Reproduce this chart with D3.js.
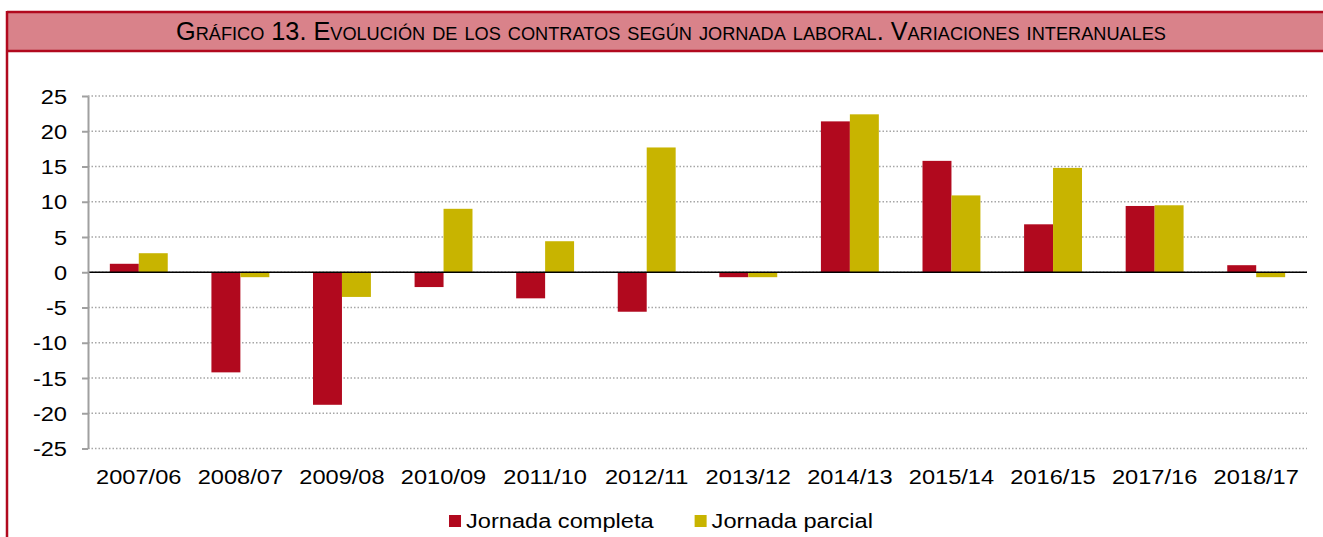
<!DOCTYPE html>
<html>
<head>
  <meta charset="utf-8">
  <title>Gráfico 13</title>
  <script src="https://d3js.org/d3.v7.min.js"></script>
  <style>
    body { margin: 0; background: #fff; }
    text { font-family: "Liberation Sans", Arial, sans-serif; fill: #000; }
    .grid line { stroke: #a6a6a6; stroke-width: 1.5; stroke-dasharray: 1.5,2; }
    .y.axis path, .y.axis line { stroke: #a0a0a0; stroke-width: 2; }
  </style>
</head>
<body>
  <svg id="chart"></svg>
  <script>
    var categories = ["2007/06", "2008/07", "2009/08", "2010/09", "2011/10", "2012/11",
                      "2013/12", "2014/13", "2015/14", "2016/15", "2017/16", "2018/17"];
    var completa = [1.2, -14.2, -18.8, -2.1, -3.7, -5.6, -0.7, 21.4, 15.8, 6.8, 9.4, 1.0];
    var parcial  = [2.7, -0.7, -3.5, 9.0, 4.4, 17.7, -0.7, 22.4, 10.9, 14.8, 9.5, -0.7];
    var seriesNames = ["Jornada completa", "Jornada parcial"];
    var yTicks = [-25, -20, -15, -10, -5, 0, 5, 10, 15, 20, 25];
    var title = "Gráfico 13. Evolución de los contratos según jornada laboral. Variaciones interanuales";

    var colors = ["#b1091e", "#c8b400"];
    var stretch = 1.18; // the original text is a little wider than Arial

    var W = 1323, H = 537;
    var plotLeft = 88, plotRight = 1307, plotTop = 96, plotBottom = 448.5;

    var svg = d3.select("#chart").attr("width", W).attr("height", H);

    // frame and title band
    svg.append("rect")
        .attr("x", 7).attr("y", 12).attr("width", W - 7).attr("height", 39)
        .attr("fill", "#d9828a");
    svg.append("line").attr("x1", 7).attr("x2", W).attr("y1", 12).attr("y2", 12)
        .attr("stroke", "#b1091e").attr("stroke-width", 2.5);
    svg.append("line").attr("x1", 7).attr("x2", W).attr("y1", 51).attr("y2", 51)
        .attr("stroke", "#b1091e").attr("stroke-width", 2.5);
    svg.append("line").attr("x1", 7).attr("x2", 7).attr("y1", 11).attr("y2", H)
        .attr("stroke", "#b1091e").attr("stroke-width", 2.5);

    svg.append("text")
        .attr("x", 671).attr("y", 40)
        .attr("text-anchor", "middle")
        .attr("textLength", 990).attr("lengthAdjust", "spacingAndGlyphs")
        .style("font-size", "25px")
        .style("font-variant", "small-caps")
        .text(title);

    // scales
    var x = d3.scaleBand().domain(categories).range([plotLeft, plotRight])
              .paddingInner(0.43).paddingOuter(0.215);
    var xs = d3.scaleBand().domain([0, 1]).range([0, x.bandwidth()]);
    var y = d3.scaleLinear().domain([-25, 25]).range([plotBottom, plotTop]);

    // gridlines
    svg.append("g").attr("class", "grid")
        .selectAll("line").data(yTicks).enter().append("line")
        .attr("x1", plotLeft).attr("x2", plotRight)
        .attr("y1", d => y(d)).attr("y2", d => y(d));

    // bars
    var series = [completa, parcial];
    series.forEach(function(vals, s) {
      svg.append("g").selectAll("rect")
          .data(vals).enter().append("rect")
          .attr("x", (d, i) => x(categories[i]) + xs(s))
          .attr("width", xs.bandwidth())
          .attr("y", d => y(Math.max(0, d)))
          .attr("height", d => Math.abs(y(d) - y(0)))
          .attr("fill", colors[s]);
    });

    // zero line
    svg.append("line")
        .attr("x1", plotLeft).attr("x2", plotRight)
        .attr("y1", y(0)).attr("y2", y(0))
        .attr("stroke", "#000").attr("stroke-width", 1.5);

    // y axis
    var yAxis = svg.append("g")
        .attr("class", "y axis")
        .attr("transform", "translate(" + plotLeft + ",0)")
        .call(d3.axisLeft(y).tickValues(yTicks).tickFormat(d => String(d))
                .tickSize(6).tickSizeOuter(0).tickPadding(0));
    yAxis.selectAll("text")
        .attr("class", "st")
        .attr("x", -21)
        .attr("dy", "0.36em")
        .style("font-size", "20px");

    // category labels
    svg.append("g").selectAll("text")
        .data(categories).enter().append("text")
        .attr("class", "st")
        .attr("x", d => x(d) + x.bandwidth() / 2)
        .attr("y", 484)
        .attr("text-anchor", "middle")
        .style("font-size", "20px")
        .text(d => d);

    // legend
    var legend = svg.append("g");
    var lx = 0;
    seriesNames.forEach(function(name, i) {
      var item = legend.append("g").attr("transform", "translate(" + lx + ",0)");
      item.append("rect").attr("x", 0).attr("y", -13).attr("width", 12).attr("height", 12)
          .attr("fill", colors[i]);
      var t = item.append("text").attr("class", "st").attr("x", 17).attr("y", 0)
          .style("font-size", "20px").text(name);
      var len = t.node().getComputedTextLength() * stretch;
      lx += 17 + len + 41;
    });

    // widen the texts
    svg.selectAll("text.st").each(function() {
      var len = this.getComputedTextLength();
      d3.select(this).attr("textLength", len * stretch).attr("lengthAdjust", "spacingAndGlyphs");
    });

    var lb = legend.node().getBBox();
    legend.attr("transform", "translate(" + (661 - lb.width / 2) + ",528)");
  </script>
</body>
</html>
